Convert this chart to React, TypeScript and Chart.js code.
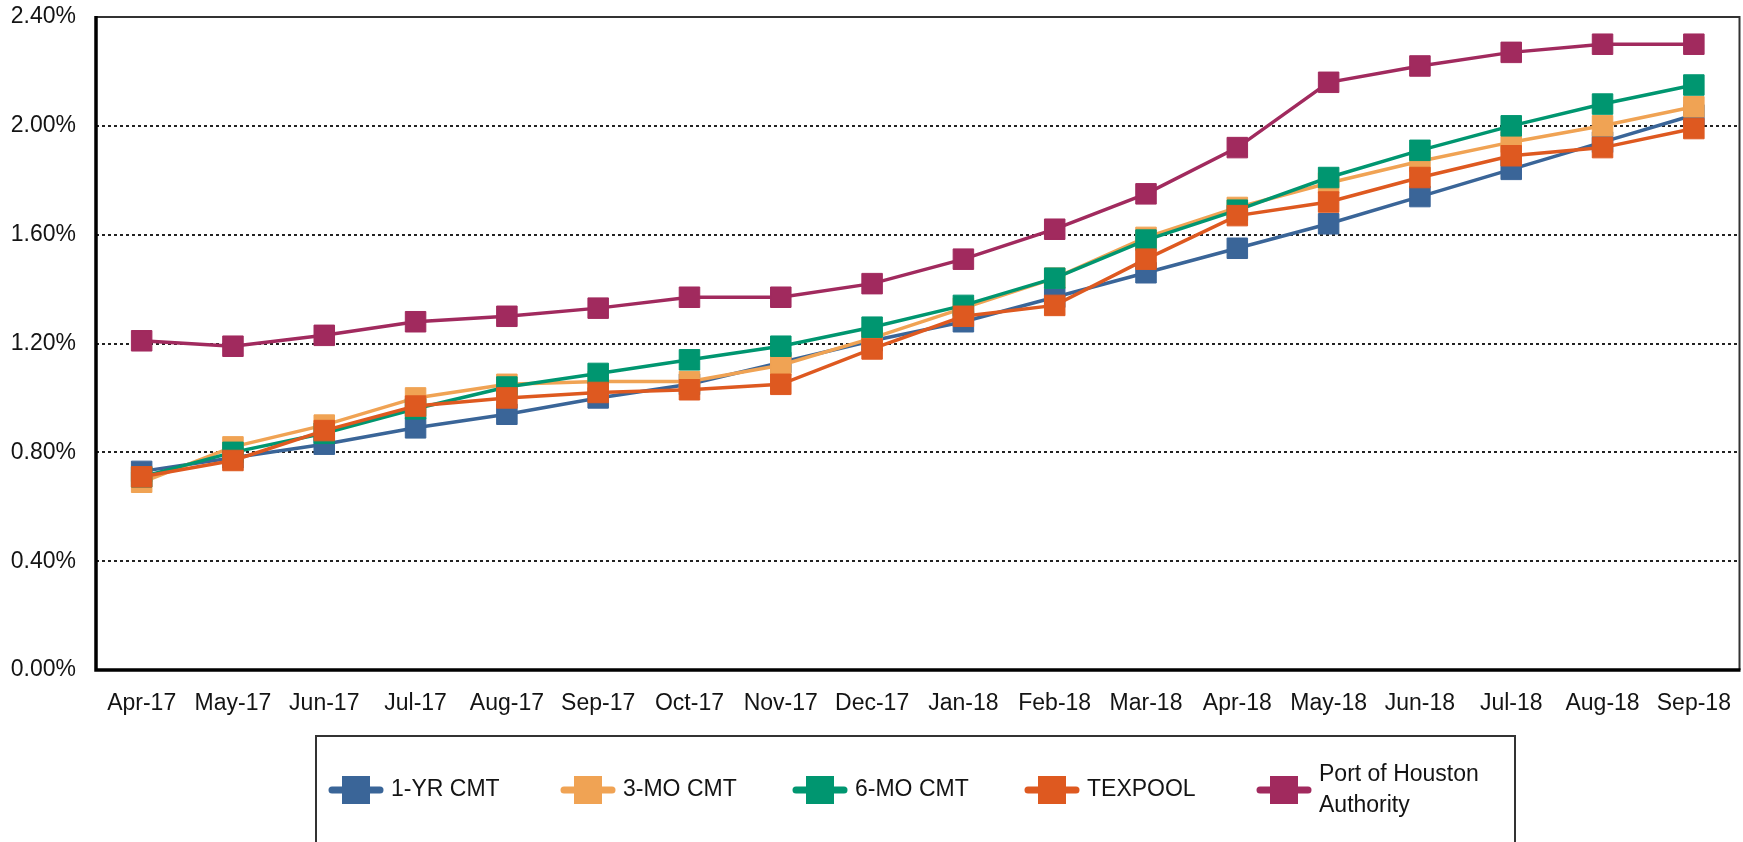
import React, { useEffect, useRef } from 'react';
import { Chart, registerables } from 'chart.js';
Chart.register(...registerables);

const labels = ['Apr-17', 'May-17', 'Jun-17', 'Jul-17', 'Aug-17', 'Sep-17', 'Oct-17', 'Nov-17', 'Dec-17', 'Jan-18', 'Feb-18', 'Mar-18', 'Apr-18', 'May-18', 'Jun-18', 'Jul-18', 'Aug-18', 'Sep-18'];

const yr1Cmt = [0.73, 0.78, 0.83, 0.89, 0.94, 1.00, 1.05, 1.13, 1.21, 1.28, 1.37, 1.46, 1.55, 1.64, 1.74, 1.84, 1.94, 2.04];
const mo3Cmt = [0.69, 0.82, 0.90, 1.00, 1.05, 1.06, 1.06, 1.12, 1.22, 1.33, 1.44, 1.59, 1.70, 1.79, 1.87, 1.94, 2.00, 2.07];
const mo6Cmt = [0.71, 0.80, 0.87, 0.96, 1.04, 1.09, 1.14, 1.19, 1.26, 1.34, 1.44, 1.58, 1.69, 1.81, 1.91, 2.00, 2.08, 2.15];
const texpool = [0.71, 0.77, 0.88, 0.97, 1.00, 1.02, 1.03, 1.05, 1.18, 1.30, 1.34, 1.51, 1.67, 1.72, 1.81, 1.89, 1.92, 1.99];
const portHouston = [1.21, 1.19, 1.23, 1.28, 1.30, 1.33, 1.37, 1.37, 1.42, 1.51, 1.62, 1.75, 1.92, 2.16, 2.22, 2.27, 2.30, 2.30];

const seriesNames = ['1-YR CMT', '3-MO CMT', '6-MO CMT', 'TEXPOOL', 'Port of Houston Authority'];
const legendLines = [['1-YR CMT'], ['3-MO CMT'], ['6-MO CMT'], ['TEXPOOL'], ['Port of Houston', 'Authority']];
const seriesColors = ['#3A6598', '#F0A354', '#009670', '#DE5920', '#A12A5E'];
const seriesValues = [yr1Cmt, mo3Cmt, mo6Cmt, texpool, portHouston];

const yMin = 0;
const yMax = 2.4;
const yStep = 0.4;

const FONT = '"Liberation Sans", Arial, sans-serif';
const FONT_SIZE = 23;
const TEXT_COLOR = '#141414';

export default function App() {
  const ref = useRef<HTMLCanvasElement>(null);

  useEffect(() => {
    if (!ref.current) return;

    const framePlugin = {
      id: 'frame',
      beforeDatasetsDraw(chart: any) {
        const { ctx, chartArea: a } = chart;
        ctx.save();
        ctx.strokeStyle = '#333';
        ctx.lineWidth = 2;
        ctx.beginPath();
        ctx.moveTo(a.left, a.top);
        ctx.lineTo(a.right, a.top);
        ctx.lineTo(a.right, a.bottom);
        ctx.stroke();
        ctx.strokeStyle = '#000';
        ctx.lineWidth = 3.5;
        ctx.beginPath();
        ctx.moveTo(a.left, a.top - 1);
        ctx.lineTo(a.left, a.bottom);
        ctx.lineTo(a.right + 1, a.bottom);
        ctx.stroke();
        ctx.restore();
      },
    };

    const legendPlugin = {
      id: 'boxLegend',
      afterDraw(chart: any) {
        const { ctx } = chart;
        ctx.save();
        ctx.strokeStyle = '#333';
        ctx.lineWidth = 2;
        ctx.strokeRect(316, 736, 1199, 200);
        const cy = 790;
        ctx.font = `${FONT_SIZE}px ${FONT}`;
        ctx.textBaseline = 'middle';
        ctx.textAlign = 'left';
        seriesNames.forEach((_, i) => {
          const cx = 356 + i * 232;
          const col = seriesColors[i];
          ctx.strokeStyle = col;
          ctx.lineWidth = 7;
          ctx.lineCap = 'round';
          ctx.beginPath();
          ctx.moveTo(cx - 24, cy);
          ctx.lineTo(cx + 24, cy);
          ctx.stroke();
          ctx.fillStyle = col;
          ctx.fillRect(cx - 14, cy - 14, 28, 28);
          ctx.fillStyle = TEXT_COLOR;
          const lines = legendLines[i];
          const lh = 31;
          lines.forEach((t, k) => {
            const y = cy + (k - (lines.length - 1) / 2) * lh;
            ctx.fillText(t, cx + 35, y);
          });
        });
        ctx.restore();
      },
    };

    const chart = new Chart(ref.current, {
      type: 'line',
      data: {
        labels,
        datasets: seriesValues.map((vals, i) => ({
          label: seriesNames[i],
          data: vals,
          borderColor: seriesColors[i],
          backgroundColor: seriesColors[i],
          pointBackgroundColor: seriesColors[i],
          pointBorderColor: seriesColors[i],
          borderWidth: 3.5,
          pointStyle: 'rect',
          pointRadius: 14.5,
          pointBorderWidth: 1,
          tension: 0,
          fill: false,
          order: seriesValues.length - i,
        })),
      },
      options: {
        responsive: false,
        animation: false,
        layout: { padding: { left: 0, right: 5, top: 17, bottom: 112 } },
        plugins: {
          legend: { display: false },
          tooltip: { enabled: false },
          title: { display: false },
        },
        scales: {
          x: {
            type: 'category',
            offset: true,
            grid: { display: false, drawTicks: false },
            border: { display: false },
            ticks: {
              color: TEXT_COLOR,
              font: { family: FONT, size: FONT_SIZE },
              padding: 20,
              maxRotation: 0,
              autoSkip: false,
            },
            afterFit(scale: any) {
              scale.height = 60;
              scale.paddingLeft = 0;
              scale.paddingRight = 0;
            },
          },
          y: {
            min: yMin,
            max: yMax,
            grid: {
              color: '#222',
              lineWidth: 2,
              drawTicks: false,
            },
            border: { display: false, dash: [3, 3] },
            ticks: {
              stepSize: yStep,
              color: TEXT_COLOR,
              font: { family: FONT, size: FONT_SIZE },
              padding: 20,
              callback: (v: any) => Number(v).toFixed(2) + '%',
            },
            afterFit(scale: any) {
              scale.width = 96;
              scale.paddingTop = 0;
              scale.paddingBottom = 0;
            },
          },
        },
      },
      plugins: [framePlugin, legendPlugin],
    } as any);

    return () => chart.destroy();
  }, []);

  return (
    <div style={{ position: 'fixed', left: 0, top: 0, width: 1743, height: 842, background: '#fff', overflow: 'hidden' }}>
      <canvas ref={ref} width={1755} height={842} style={{ display: 'block' }} />
    </div>
  );
}
